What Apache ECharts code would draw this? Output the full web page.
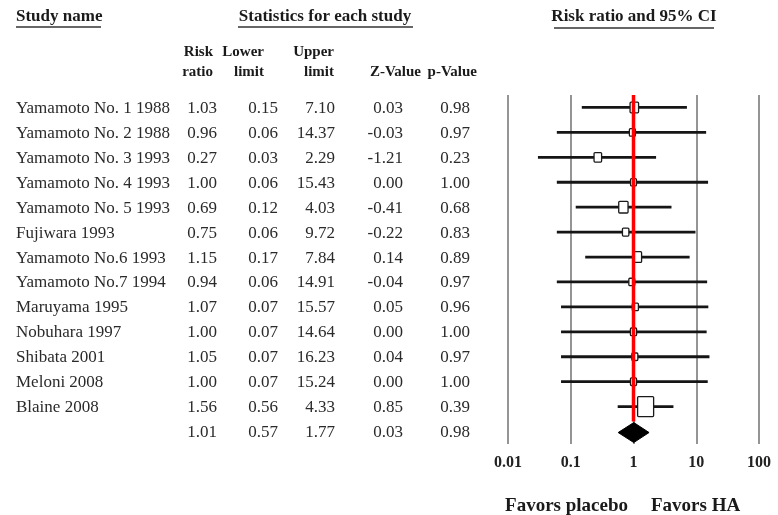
<!DOCTYPE html>
<html><head><meta charset="utf-8">
<script src="https://cdn.jsdelivr.net/npm/echarts@6/dist/echarts.min.js"></script>
<style>html,body{margin:0;padding:0;background:#fff}#c{width:778px;height:515px}</style>
</head><body><div id="c"></div>
<script>
// ---- data ----
const studies = ['Yamamoto No. 1 1988','Yamamoto No. 2 1988','Yamamoto No. 3 1993','Yamamoto No. 4 1993','Yamamoto No. 5 1993','Fujiwara 1993','Yamamoto No.6 1993','Yamamoto No.7 1994','Maruyama 1995','Nobuhara 1997','Shibata 2001','Meloni 2008','Blaine 2008'];
const riskRatio  = [1.03, 0.96, 0.27, 1.00, 0.69, 0.75, 1.15, 0.94, 1.07, 1.00, 1.05, 1.00, 1.56];
const lowerLimit = [0.15, 0.06, 0.03, 0.06, 0.12, 0.06, 0.17, 0.06, 0.07, 0.07, 0.07, 0.07, 0.56];
const upperLimit = [7.10, 14.37, 2.29, 15.43, 4.03, 9.72, 7.84, 14.91, 15.57, 14.64, 16.23, 15.24, 4.33];
const zValue     = [0.03, -0.03, -1.21, 0.00, -0.41, -0.22, 0.14, -0.04, 0.05, 0.00, 0.04, 0.00, 0.85];
const pValue     = [0.98, 0.97, 0.23, 1.00, 0.68, 0.83, 0.89, 0.97, 0.96, 1.00, 0.97, 1.00, 0.39];
const relWeight  = [8.6, 4.3, 6.8, 4.1, 10.3, 4.9, 8.7, 4.2, 4.4, 4.5, 4.3, 4.4, 30.5]; // estimated % weights (marker area)
const summaryRR = 1.01, summaryLower = 0.57, summaryUpper = 1.77, summaryZ = 0.03, summaryP = 0.98;
const xTickValues = [0.01, 0.1, 1, 10, 100];
const xTickLabels = ['0.01', '0.1', '1', '10', '100'];
const colHeads1 = ['Risk', 'Lower', 'Upper', '', ''];
const colHeads2 = ['ratio', 'limit', 'limit', 'Z-Value', 'p-Value'];

// ---- layout / style ----
const SERIF = '"Liberation Serif", "Times New Roman", serif';
const GRID_TOP = 95, GRID_H = 349;
const colX = [16, 217, 278, 335, 403, 470];
const headRight = [213, 264, 334, 421, 477];
const nRows = studies.length + 1;

const tableRows = [];
for (let i = 0; i < nRows; i++) tableRows.push([0, i]);
const fmt = v => v.toFixed(2);
function rowTexts(i) {
  if (i < studies.length) return [studies[i], fmt(riskRatio[i]), fmt(lowerLimit[i]), fmt(upperLimit[i]), fmt(zValue[i]), fmt(pValue[i])];
  return ['', fmt(summaryRR), fmt(summaryLower), fmt(summaryUpper), fmt(summaryZ), fmt(summaryP)];
}

const forestData = studies.map((s, i) => [riskRatio[i], i, lowerLimit[i], upperLimit[i], relWeight[i]]);

const graphics = [];
function txt(x, y, text, font, align) {
  graphics.push({type: 'text', x: x, y: y, silent: true,
    style: {text: text, font: font, fill: '#1a1a1a', align: align || 'left', verticalAlign: 'middle'}});
}
function uline(x1, x2, y) {
  graphics.push({type: 'line', silent: true, shape: {x1: x1, y1: y, x2: x2, y2: y}, style: {stroke: '#333', lineWidth: 1.5}});
}
const HB = 'bold 17px ' + SERIF;
txt(16, 17, 'Study name', HB); uline(16, 101, 27);
txt(325, 17, 'Statistics for each study', HB, 'center'); uline(238, 413, 27);
txt(634, 17, 'Risk ratio and 95% CI', HB, 'center'); uline(554, 714, 28);
const CH = 'bold 15px ' + SERIF;
for (let k = 0; k < 5; k++) {
  if (colHeads1[k]) txt(headRight[k], 52, colHeads1[k], CH, 'right');
  txt(headRight[k], 72, colHeads2[k], CH, 'right');
}
txt(628, 506, 'Favors placebo', 'bold 19px ' + SERIF, 'right');
txt(651, 506, 'Favors HA', 'bold 19px ' + SERIF, 'left');

const option = {
  animation: false,
  backgroundColor: '#fff',
  grid: [
    {left: 0, width: 480, top: GRID_TOP, height: GRID_H},
    {left: 508, width: 251, top: GRID_TOP, height: GRID_H}
  ],
  xAxis: [
    {gridIndex: 0, type: 'value', min: 0, max: 480, show: false},
    {gridIndex: 1, type: 'log', logBase: 10, min: 0.01, max: 100,
     axisLine: {show: false}, axisTick: {show: false},
     splitLine: {show: true, showMinLine: true, showMaxLine: true, lineStyle: {color: '#7a7a7a', width: 1.6}},
     axisLabel: {margin: 11, fontFamily: SERIF, fontWeight: 'bold', fontSize: 16, color: '#222',
       formatter: v => { const k = xTickValues.findIndex(t => Math.abs(Math.log10(t) - Math.log10(v)) < 1e-6); return k >= 0 ? xTickLabels[k] : ''; }}}
  ],
  yAxis: [
    {gridIndex: 0, type: 'value', inverse: true, min: -0.5, max: nRows - 0.5, show: false},
    {gridIndex: 1, type: 'value', inverse: true, min: -0.5, max: nRows - 0.5, show: false}
  ],
  graphic: graphics,
  series: [
    {
      type: 'custom', xAxisIndex: 0, yAxisIndex: 0, data: tableRows, silent: true, clip: false,
      renderItem: function (params, api) {
        const i = params.dataIndex;
        const t = rowTexts(i);
        const children = t.map((s, k) => {
          const p = api.coord([colX[k], i]);
          return {type: 'text', style: {text: s, x: p[0], y: p[1] + 1, font: '17px ' + SERIF, fill: '#2a2a2a',
            align: k === 0 ? 'left' : 'right', verticalAlign: 'middle'}};
        });
        return {type: 'group', children: children};
      }
    },
    {
      type: 'custom', xAxisIndex: 1, yAxisIndex: 1, data: forestData, silent: true, clip: false, z: 3,
      encode: {x: [0, 2, 3], y: 1},
      renderItem: function (params, api) {
        const i = api.value(1);
        const a = api.coord([api.value(2), i]);
        const b = api.coord([api.value(3), i]);
        const c = api.coord([api.value(0), i]);
        const s = 2.9 * Math.sqrt(api.value(4));
        const h = s * 1.25;
        return {type: 'group', children: [
          {type: 'line', shape: {x1: a[0], y1: a[1], x2: b[0], y2: b[1]}, style: {stroke: '#151515', lineWidth: 2.8}},
          {type: 'rect', shape: {x: c[0] - s / 2, y: c[1] - h / 2, width: s, height: h, r: 1},
           style: {fill: '#fff', stroke: '#1a1a1a', lineWidth: 1.3}}
        ]};
      }
    },
    {
      type: 'line', xAxisIndex: 1, yAxisIndex: 1, z: 5, silent: true, symbol: 'none',
      data: [[1, -0.5], [1, studies.length - 0.4]],
      lineStyle: {color: '#ff0000', width: 3.5}
    },
    {
      type: 'custom', xAxisIndex: 1, yAxisIndex: 1, z: 6, silent: true, clip: false,
      data: [[summaryRR, studies.length, summaryLower, summaryUpper]],
      encode: {x: [0, 2, 3], y: 1},
      renderItem: function (params, api) {
        const r = api.value(1);
        const l = api.coord([api.value(2), r]);
        const m = api.coord([api.value(0), r]);
        const u = api.coord([api.value(3), r]);
        return {type: 'polygon', shape: {points: [[l[0], l[1] + 1], [m[0], m[1] - 9], [u[0], u[1] + 1], [m[0], m[1] + 11]]},
          style: {fill: '#000', stroke: '#000', lineWidth: 1}};
      }
    }
  ]
};
const chart = echarts.init(document.getElementById('c'), null, {renderer: 'canvas'});
chart.setOption(option);
</script>
</body></html>
